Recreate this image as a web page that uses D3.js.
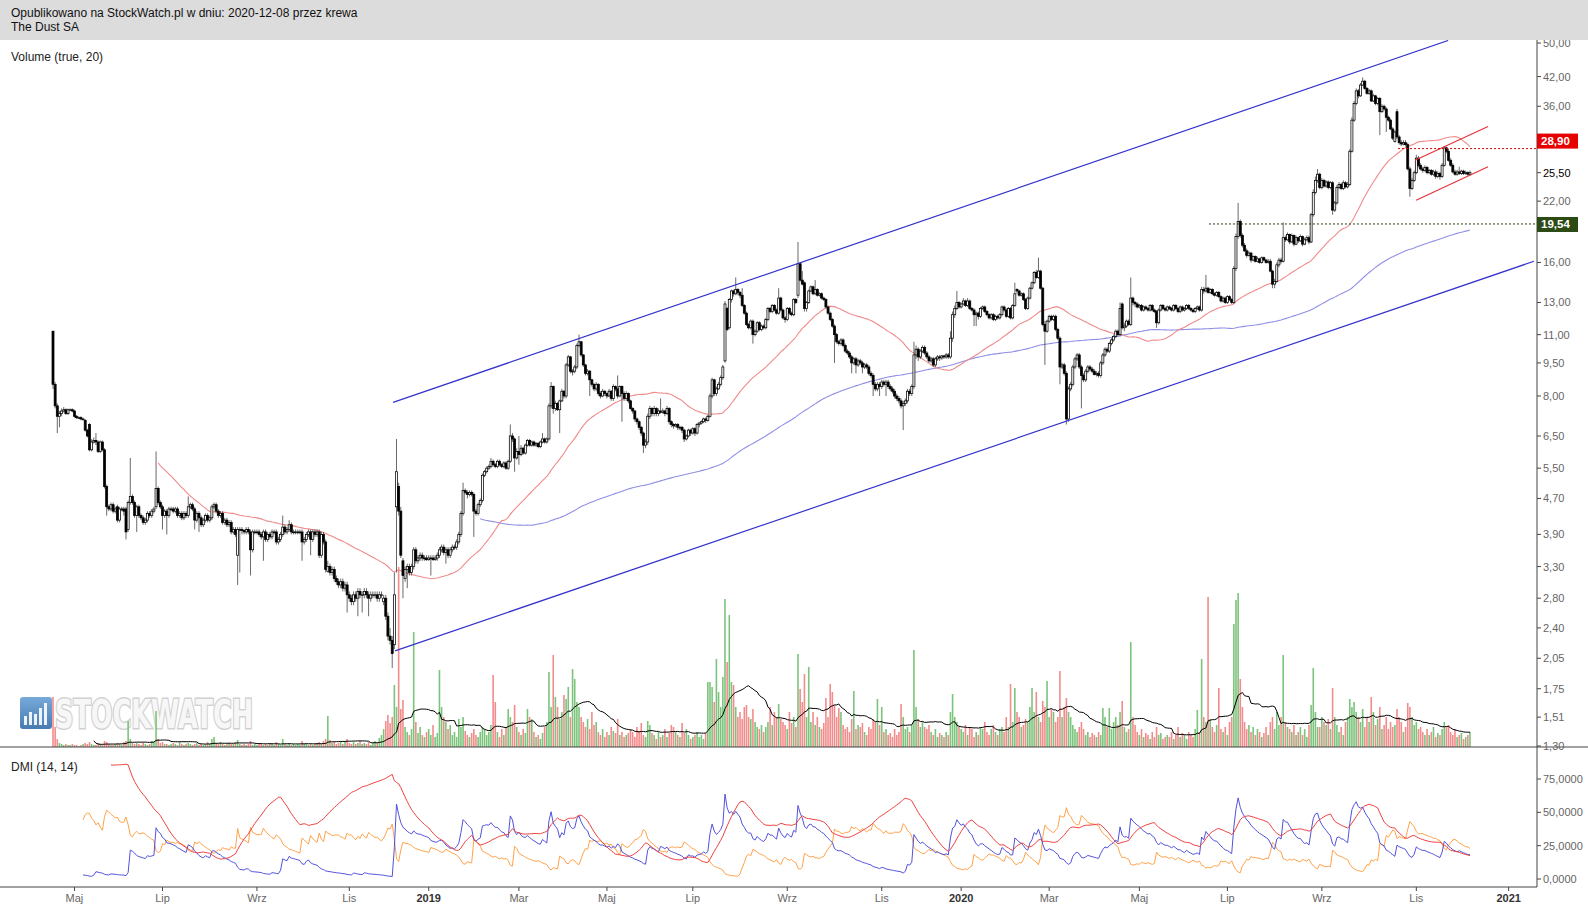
<!DOCTYPE html>
<html><head><meta charset="utf-8">
<script src="https://cdn.jsdelivr.net/npm/d3@7/dist/d3.min.js"></script>
<style>body{margin:0;background:#fff}svg{display:block;font-family:"Liberation Sans",Arial,sans-serif}</style>
</head><body><svg id="c" width="1588" height="906"></svg>
<script>
// ---- DATA (daily candles, The Dust SA, 2018-04-17 .. 2020-12-08) ----
const opens=[11.2,8.5,7.6,7.2,7.3,7.4,7.45,7.3,7.45,7.45,
7.4,7.2,7.15,7.15,7.1,7.05,6.7,6.9,6.05,6.3,
6.35,6.3,6.0,6.3,6.05,5.0,4.5,4.45,4.55,4.4,
4.5,4.2,4.45,4.45,4.45,4.0,4.6,4.75,4.6,4.3,
4.5,4.3,4.25,4.15,4.2,4.35,4.3,4.4,4.5,4.95,
4.6,4.5,4.3,4.4,4.3,4.45,4.45,4.4,4.45,4.3,
4.35,4.25,4.35,4.3,4.5,4.55,4.45,4.2,4.35,4.25,
4.1,4.2,4.3,4.2,4.25,4.5,4.55,4.4,4.3,4.35,
4.15,4.2,4.1,4.15,3.95,4.0,3.5,4.0,4.0,3.98,
3.95,4.0,3.95,3.6,3.95,3.95,3.95,3.9,3.85,3.95,
3.8,3.9,3.85,3.95,3.95,3.75,3.8,3.9,4.05,3.95,
4.0,4.1,3.95,3.95,3.95,3.95,3.95,3.75,3.8,3.9,
3.95,3.8,3.95,3.9,3.95,3.5,3.9,3.75,3.22,3.3,
3.2,3.25,3.1,3.05,3.0,3.05,2.95,3.0,2.85,2.8,
2.75,2.85,2.8,2.9,2.85,2.85,2.9,2.85,2.8,2.85,
2.85,2.85,2.8,2.85,2.75,2.8,2.55,2.3,2.25,2.2,
4.5,5.0,4.4,3.4,3.1,3.25,3.3,3.2,3.3,3.6,
3.4,3.45,3.5,3.45,3.45,3.42,3.45,3.45,3.42,3.45,
3.5,3.6,3.65,3.55,3.6,3.5,3.6,3.65,3.65,3.75,
3.9,4.35,4.9,4.85,4.8,4.85,4.8,4.4,4.35,4.55,
4.65,5.3,5.4,5.5,5.55,5.7,5.6,5.55,5.7,5.6,
5.55,5.65,5.5,5.7,6.5,6.4,5.8,6.0,5.9,6.1,
5.95,6.2,6.35,6.2,6.3,6.2,6.25,6.15,6.3,6.4,
6.3,6.4,7.6,8.4,7.5,7.7,7.45,7.8,8.2,8.0,
9.4,9.8,9.1,9.1,9.3,10.4,10.6,9.9,9.4,9.0,
9.1,8.7,8.5,8.3,8.5,8.1,8.0,8.2,8.1,8.0,
8.2,7.9,8.4,8.3,8.0,8.4,8.1,7.9,8.1,7.8,
7.5,7.4,7.1,7.0,6.8,6.6,6.2,6.3,7.2,7.5,
7.3,7.5,7.3,7.4,7.35,7.4,7.3,7.5,7.0,6.9,
6.85,6.9,6.8,6.8,6.7,6.4,6.5,6.7,6.6,6.75,
6.6,6.9,6.95,7.0,7.1,7.05,7.2,8.0,8.7,8.1,
8.3,8.5,8.8,9.6,12.6,11.4,13.2,13.8,13.6,13.9,
13.7,13.5,12.8,12.3,11.6,11.4,11.8,11.0,11.2,11.7,
11.3,11.5,11.4,11.9,12.6,12.4,12.8,12.5,12.3,13.3,
12.5,12.0,11.9,12.6,12.3,12.2,13.2,13.5,15.9,14.6,
14.4,12.6,13.0,13.8,14.1,13.6,13.9,13.5,13.6,13.3,
13.2,12.7,12.3,11.9,11.5,11.0,10.6,10.5,10.7,10.4,
10.1,10.0,9.8,9.5,9.7,9.4,9.6,9.5,9.3,9.4,
9.3,9.0,8.9,8.5,8.3,8.5,8.4,8.6,8.5,8.6,
8.4,8.3,8.2,8.0,7.9,7.8,7.6,7.7,7.8,8.2,
8.1,8.4,9.9,10.2,9.8,10.1,10.3,10.0,9.8,9.6,
9.7,9.4,9.7,9.8,9.75,9.85,9.8,9.9,9.8,10.8,
12.2,12.6,13.0,12.7,12.9,13.1,12.8,13.1,12.6,12.5,
12.2,12.3,12.1,12.6,12.7,12.4,12.2,12.0,12.2,11.9,
12.1,12.0,12.2,12.7,12.5,12.1,12.6,12.0,12.8,13.9,
13.8,13.5,13.6,13.2,12.6,13.3,14.0,14.4,15.2,14.8,
15.3,14.0,11.6,11.2,11.8,12.1,11.9,12.1,11.3,10.8,
9.3,9.4,9.0,7.1,8.3,8.5,9.3,9.7,9.9,9.3,
8.9,8.7,9.1,9.3,9.2,9.1,8.95,9.0,8.9,9.5,
9.9,10.2,10.1,10.5,10.7,10.9,11.2,11.0,12.9,11.4,
11.5,11.8,11.6,13.3,13.0,12.9,12.7,12.8,12.5,12.7,
12.6,12.5,12.8,12.5,12.4,11.7,12.5,12.8,12.6,12.5,
12.7,12.6,12.5,12.8,12.6,12.4,12.7,12.5,12.6,12.8,
12.6,12.5,12.4,12.6,12.7,12.5,13.9,13.8,14.0,13.7,
13.9,13.6,13.5,13.7,13.4,13.1,13.3,13.0,13.4,13.2,
13.0,15.5,18.3,19.8,18.4,17.5,17.0,16.6,16.8,16.2,
16.5,16.1,16.3,16.0,16.4,16.2,16.0,16.1,15.3,14.3,
14.5,15.8,16.2,16.1,18.2,18.0,18.5,17.8,18.4,17.6,
18.2,17.9,18.3,17.6,18.0,18.2,17.8,20.5,23.0,24.5,
25.3,23.6,24.5,23.8,24.3,23.6,24.2,21.0,21.8,23.6,
24.0,23.5,24.2,23.7,24.0,28.5,33.5,36.5,39.0,38.0,
40.2,41.0,39.5,38.5,39.0,37.0,38.0,36.5,37.5,35.0,
36.0,35.5,34.0,33.5,32.0,30.0,35.0,30.7,29.8,29.6,
29.8,29.5,26.0,23.5,24.5,25.5,27.5,26.5,26.0,25.8,
26.2,25.5,25.8,25.3,25.6,25.0,25.4,25.0,26.5,29.0,
28.5,27.2,26.5,25.6,25.3,25.6,25.4,25.7,25.4,25.5,
25.3];
const highs=[11.2,8.6,7.7,7.4,7.5,7.55,7.5,7.5,7.5,7.5,
7.45,7.25,7.2,7.2,7.15,7.1,6.75,6.95,6.4,6.45,
6.6,6.35,6.35,6.35,6.1,5.05,4.55,4.6,4.6,4.5,
4.55,4.5,4.5,4.5,4.5,4.65,5.8,4.8,4.65,4.55,
4.55,4.35,4.3,4.25,4.4,4.4,4.45,4.5,6.0,5.0,
4.65,4.55,4.45,4.45,4.5,4.5,4.5,4.5,4.5,4.4,
4.4,4.4,4.4,4.75,4.6,4.6,4.5,4.4,4.4,4.3,
4.25,4.35,4.35,4.3,4.55,4.6,4.6,4.45,4.4,4.4,
4.25,4.25,4.2,4.2,4.05,4.05,4.05,4.05,4.05,4.0,
4.05,4.05,4.0,4.0,4.0,4.0,4.0,3.95,4.0,4.0,
3.95,3.95,4.0,4.0,4.0,3.85,3.95,4.3,4.1,4.05,
4.2,4.15,4.0,4.0,4.0,4.0,4.0,3.85,3.95,4.0,
4.0,4.0,4.0,4.0,4.0,3.95,3.95,3.8,3.4,3.35,
3.3,3.3,3.15,3.1,3.1,3.1,3.05,3.05,2.9,2.85,
2.9,2.9,2.95,2.95,2.9,2.95,2.95,2.9,2.9,2.9,
2.9,2.9,2.9,2.9,2.85,2.85,2.6,2.4,2.3,3.2,
6.4,5.1,4.5,3.45,3.3,3.35,3.35,3.35,3.65,3.65,
3.5,3.55,3.55,3.5,3.5,3.5,3.5,3.5,3.5,3.55,
3.65,3.7,3.7,3.65,3.65,3.65,3.7,3.7,3.8,3.95,
4.4,5.1,4.95,4.9,4.9,4.9,4.85,4.45,4.6,4.7,
5.35,5.45,5.55,5.6,5.8,5.75,5.65,5.75,5.75,5.65,
5.7,5.7,5.75,6.9,6.6,6.45,6.1,6.5,6.2,6.15,
6.25,6.4,6.4,6.35,6.35,6.3,6.3,6.35,6.6,6.45,
6.45,7.7,8.6,8.45,7.8,7.75,7.85,8.3,8.25,9.5,
9.9,9.85,9.2,9.4,10.5,11.0,10.65,9.95,9.45,9.2,
9.15,8.75,8.55,8.6,8.55,8.2,8.3,8.25,8.15,8.3,
8.25,8.5,8.45,8.9,8.45,8.45,8.2,8.2,8.15,7.85,
7.55,7.45,7.15,7.05,6.85,6.65,6.4,7.3,7.6,7.55,
7.6,7.55,7.5,7.9,7.5,7.45,7.6,7.55,7.05,6.95,
6.95,6.95,6.85,6.85,6.75,6.55,6.75,6.75,6.8,6.8,
6.95,7.0,7.05,7.15,7.15,7.25,8.1,8.8,8.75,8.4,
8.6,8.9,9.4,13.1,12.7,13.3,13.9,13.9,14.8,14.0,
13.8,14.0,12.9,12.4,11.7,11.9,11.9,11.3,11.8,11.8,
11.6,11.6,12.0,12.7,12.7,12.9,12.9,12.6,14.0,13.4,
12.6,12.1,12.7,12.7,12.4,13.3,13.3,17.8,16.0,15.3,
14.5,13.1,13.9,14.2,14.2,14.6,14.0,13.7,13.7,13.4,
13.3,12.8,12.4,12.0,11.6,11.1,10.7,10.8,10.8,10.5,
10.2,10.1,9.9,9.8,9.8,9.7,9.7,9.6,9.5,9.5,
9.4,9.1,9.0,8.6,8.6,8.6,8.7,8.7,8.7,8.7,
8.5,8.4,8.3,8.1,8.0,7.9,7.8,7.9,8.3,8.3,
8.5,10.6,10.4,10.3,10.2,10.4,10.4,10.1,9.9,9.8,
9.8,9.8,9.9,9.9,9.9,9.9,10.0,10.0,11.2,12.4,
12.8,13.8,13.1,13.0,13.3,13.2,13.3,13.2,12.7,12.6,
12.4,12.4,12.7,12.8,12.8,12.5,12.3,12.3,12.3,12.2,
12.2,12.3,12.8,12.8,12.6,12.7,12.7,12.9,14.4,14.0,
13.9,13.7,13.7,13.3,13.4,14.1,14.5,15.3,15.4,16.4,
15.4,14.1,11.8,11.9,12.2,12.2,12.2,12.2,11.4,10.9,
9.5,9.5,9.1,8.4,8.6,9.4,9.8,10.0,10.0,9.4,
9.0,9.2,9.4,9.4,9.3,9.2,9.1,9.1,9.6,10.0,
10.3,10.3,10.6,10.8,11.0,11.3,11.3,13.0,13.0,11.7,
11.9,11.9,14.8,13.4,13.1,13.0,12.9,12.9,12.8,12.8,
12.7,12.9,12.9,12.6,12.5,12.6,12.9,12.9,12.7,12.8,
12.8,12.7,12.9,12.9,12.7,12.8,12.8,12.7,12.9,12.9,
12.7,12.6,12.7,12.8,12.8,14.1,14.1,15.0,14.1,14.0,
14.0,13.7,13.8,13.8,13.5,13.4,13.4,13.5,13.5,13.3,
15.7,18.6,21.8,20.0,18.6,17.7,17.2,17.0,16.9,16.6,
16.6,16.5,16.4,16.5,16.5,16.3,16.3,16.3,15.4,14.7,
16.0,16.4,16.4,19.7,18.4,18.7,18.6,18.6,18.5,18.4,
18.3,18.5,18.4,18.2,18.4,18.4,20.7,23.4,25.0,26.0,
25.5,24.8,24.7,24.5,24.5,24.4,24.4,22.0,23.9,24.3,
24.2,24.5,24.4,24.3,28.8,34.0,37.0,39.5,39.4,40.6,
41.8,41.3,39.8,39.4,39.3,38.4,38.2,37.8,37.8,36.4,
36.3,35.8,34.3,33.8,32.3,31.8,35.5,31.0,30.2,30.2,
30.2,29.8,26.3,24.8,25.8,28.0,27.8,26.8,26.3,26.5,
26.4,26.0,26.0,25.9,25.9,25.7,25.6,26.8,29.3,29.2,
28.9,27.5,26.8,25.9,25.9,26.3,25.9,25.9,25.8,25.7,
25.8];
const lows=[8.3,7.5,6.6,6.8,7.2,7.35,7.25,7.25,7.4,7.35,
7.15,7.1,7.1,7.05,7.05,6.65,6.45,6.0,6.0,6.25,
6.2,5.95,5.95,6.0,4.95,4.3,4.4,4.4,4.35,4.35,
4.15,4.15,4.4,4.3,3.8,3.95,4.55,4.55,4.25,3.95,
4.25,4.2,4.1,4.1,4.15,4.25,4.25,4.35,4.45,4.55,
4.45,4.0,4.25,3.9,4.25,4.4,4.35,4.35,4.25,4.25,
4.2,4.2,4.25,4.25,4.45,4.4,4.0,4.15,3.95,4.05,
4.05,4.15,4.15,4.15,4.2,4.45,4.35,4.25,4.25,4.1,
4.1,4.05,4.05,3.9,3.9,3.85,3.0,3.2,3.9,3.9,
3.9,3.9,3.15,3.55,3.9,3.9,3.85,3.8,3.4,3.75,
3.75,3.8,3.8,3.9,3.7,3.7,3.75,3.85,3.9,3.9,
3.95,3.9,3.9,3.9,3.9,3.9,3.4,3.7,3.75,3.85,
3.5,3.75,3.85,3.85,3.45,3.45,3.7,3.2,3.2,3.15,
3.15,3.05,3.0,2.95,2.95,2.9,2.9,2.6,2.75,2.7,
2.7,2.75,2.55,2.8,2.6,2.8,2.8,2.55,2.75,2.8,
2.8,2.75,2.75,2.8,2.7,2.5,2.25,2.2,1.95,2.15,
3.2,4.3,3.45,2.8,3.05,2.95,3.15,3.15,3.25,3.35,
3.35,3.4,3.4,3.4,3.4,3.4,3.15,3.4,3.4,3.4,
3.45,3.55,3.5,3.35,3.45,3.45,3.55,3.6,3.6,3.7,
3.85,4.3,4.8,4.7,4.75,4.75,3.85,4.3,4.3,4.5,
4.6,5.25,5.35,5.45,5.5,5.55,5.5,5.5,5.55,5.5,
5.5,5.45,5.45,5.65,6.3,5.4,5.75,5.6,5.85,5.9,
5.9,6.15,6.15,6.15,6.15,6.15,6.1,6.1,6.25,6.25,
6.25,6.35,7.5,7.3,7.4,7.4,6.6,7.75,7.9,7.9,
9.3,9.0,8.9,9.0,9.2,10.3,9.8,9.3,8.9,8.9,
8.0,8.4,8.2,8.2,8.0,7.9,7.95,8.0,7.9,7.95,
7.8,7.8,8.2,7.9,7.95,7.0,7.8,7.8,7.7,7.45,
7.3,7.0,6.9,6.7,6.5,5.95,6.1,6.2,7.1,7.2,
7.2,7.2,7.2,7.3,7.3,7.2,7.25,6.9,6.8,6.75,
6.8,6.7,6.7,6.6,6.3,6.35,6.45,6.5,6.55,6.5,
6.55,6.8,6.9,6.95,6.95,7.0,7.15,7.9,8.0,8.0,
8.25,8.4,8.7,9.5,11.2,11.3,13.0,13.4,13.5,13.5,
13.3,12.7,12.2,11.5,11.3,11.3,10.5,10.9,11.1,11.2,
11.2,11.3,11.3,11.8,12.3,12.3,12.4,12.2,12.2,12.4,
11.9,11.7,11.8,12.2,12.1,12.1,12.9,13.3,14.5,14.2,
12.4,12.4,12.9,13.7,13.5,13.5,13.4,13.4,13.2,13.1,
12.6,12.2,11.8,11.4,9.5,10.5,10.4,10.4,10.3,10.0,
9.9,9.7,9.0,9.4,9.0,9.3,9.4,9.0,9.2,9.2,
8.9,8.8,8.0,8.2,8.2,8.0,8.3,8.4,8.0,8.3,
8.2,8.1,7.9,7.8,7.7,7.5,6.7,7.6,7.7,8.0,
8.0,8.3,9.7,9.6,9.7,10.0,9.9,9.7,9.5,9.5,
9.3,9.3,9.6,9.6,9.65,9.7,9.7,9.7,9.7,10.6,
12.0,12.5,12.6,12.6,12.8,12.7,12.7,12.5,12.4,11.5,
11.5,11.9,12.0,12.5,12.3,12.1,11.9,11.9,11.8,11.8,
11.9,11.9,12.1,12.4,12.0,12.0,11.9,11.9,12.7,13.6,
13.4,13.4,13.1,12.5,12.5,13.2,13.9,14.3,14.7,14.7,
13.9,11.5,9.4,11.1,11.7,11.8,11.8,11.2,10.7,8.5,
9.2,8.9,6.9,7.0,8.2,8.4,9.2,9.6,9.2,7.5,
8.6,8.6,9.0,9.1,9.0,8.9,8.85,8.8,8.8,9.4,
9.8,10.0,10.0,10.4,10.6,10.8,10.9,10.9,11.3,11.2,
11.4,11.5,11.5,12.8,12.7,12.6,12.6,12.4,12.4,12.5,
12.4,12.4,12.4,12.3,11.4,11.6,12.4,12.5,12.4,12.4,
12.5,12.4,12.4,12.5,12.3,12.3,12.4,12.4,12.5,12.5,
12.4,12.3,12.3,12.5,12.4,12.4,13.6,13.7,13.6,13.6,
13.5,13.4,13.4,13.3,13.0,13.0,12.9,12.9,13.1,12.9,
12.9,15.3,18.1,18.2,17.3,16.9,16.4,16.5,16.0,16.1,
16.0,16.0,15.9,15.9,16.1,15.9,15.9,15.2,14.0,14.0,
14.4,15.6,15.9,16.0,17.8,17.9,17.6,17.7,17.4,17.5,
17.7,17.8,17.4,17.5,17.9,17.6,17.7,20.3,22.8,24.2,
23.4,23.4,23.6,23.6,23.4,23.4,20.5,20.8,21.6,23.4,
23.3,23.3,23.5,23.5,23.8,28.3,33.2,36.2,37.5,37.8,
40.0,39.2,38.2,38.2,36.8,36.8,36.2,36.2,31.0,34.8,
35.2,31.5,33.2,31.8,30.2,29.8,30.4,29.5,29.3,29.4,
29.2,25.8,22.5,23.3,24.3,25.3,26.2,25.8,25.5,25.6,
25.3,25.3,25.1,25.1,24.7,24.8,24.6,24.8,26.3,28.2,
27.0,26.3,25.4,25.1,25.1,25.2,25.2,25.2,25.2,25.1,
25.1];
const closes=[8.5,7.6,7.2,7.3,7.4,7.45,7.3,7.45,7.45,7.4,
7.2,7.15,7.15,7.1,7.1,6.7,6.5,6.05,6.3,6.35,
6.3,6.0,6.3,6.05,5.0,4.5,4.45,4.55,4.4,4.45,
4.2,4.45,4.45,4.4,3.95,4.6,4.75,4.6,4.3,4.5,
4.3,4.25,4.15,4.2,4.35,4.3,4.4,4.45,4.95,4.6,
4.5,4.3,4.4,4.3,4.45,4.45,4.4,4.45,4.3,4.35,
4.25,4.35,4.3,4.5,4.55,4.45,4.2,4.35,4.25,4.1,
4.2,4.3,4.2,4.25,4.5,4.55,4.4,4.3,4.35,4.15,
4.2,4.1,4.15,3.95,4.0,3.9,4.0,4.0,3.98,3.95,
4.0,3.95,3.6,3.95,3.95,3.95,3.9,3.85,3.95,3.8,
3.9,3.85,3.95,3.95,3.75,3.8,3.9,4.05,3.95,4.0,
4.1,3.95,3.95,3.95,3.95,3.95,3.75,3.8,3.9,3.95,
3.8,3.95,3.9,3.95,3.5,3.9,3.75,3.25,3.3,3.2,
3.25,3.1,3.05,3.0,3.05,2.95,3.0,2.85,2.8,2.75,
2.85,2.8,2.9,2.85,2.85,2.9,2.85,2.8,2.85,2.85,
2.85,2.8,2.85,2.85,2.8,2.55,2.3,2.25,2.1,2.85,
5.4,4.4,3.5,3.15,3.25,3.3,3.2,3.3,3.6,3.4,
3.45,3.5,3.45,3.45,3.42,3.45,3.45,3.42,3.45,3.5,
3.6,3.65,3.55,3.6,3.5,3.6,3.65,3.65,3.75,3.9,
4.35,4.9,4.85,4.8,4.85,4.8,4.4,4.35,4.55,4.65,
5.3,5.4,5.5,5.55,5.7,5.6,5.55,5.7,5.6,5.55,
5.65,5.5,5.7,6.5,6.4,5.8,6.0,5.9,6.1,5.95,
6.2,6.35,6.2,6.3,6.2,6.25,6.15,6.3,6.4,6.3,
6.4,7.6,8.4,7.5,7.7,7.45,7.8,8.2,8.0,9.4,
9.8,9.1,9.1,9.3,10.4,10.6,9.9,9.4,9.0,9.1,
8.7,8.5,8.3,8.5,8.1,8.0,8.2,8.1,8.0,8.2,
7.9,8.4,8.3,8.0,8.4,8.1,7.9,8.1,7.8,7.5,
7.4,7.1,7.0,6.8,6.6,6.2,6.3,7.2,7.5,7.3,
7.5,7.3,7.4,7.35,7.4,7.3,7.5,7.0,6.9,6.85,
6.9,6.8,6.8,6.7,6.4,6.5,6.7,6.6,6.75,6.6,
6.9,6.95,7.0,7.1,7.05,7.2,8.0,8.7,8.1,8.3,
8.5,8.8,9.3,12.9,11.3,13.2,13.8,13.6,13.9,13.7,
13.5,12.8,12.3,11.6,11.4,11.8,11.0,11.2,11.7,11.3,
11.5,11.4,11.9,12.6,12.4,12.8,12.5,12.3,13.3,12.5,
12.0,11.9,12.6,12.3,12.2,13.2,13.0,15.9,14.6,14.3,
12.6,13.0,13.8,14.1,13.6,13.9,13.5,13.6,13.3,13.2,
12.7,12.3,11.9,11.5,11.0,10.6,10.5,10.7,10.4,10.1,
10.0,9.8,9.5,9.7,9.4,9.6,9.5,9.3,9.4,9.3,
9.0,8.9,8.5,8.3,8.5,8.4,8.6,8.5,8.6,8.4,
8.3,8.2,8.0,7.9,7.8,7.6,7.7,7.8,8.2,8.1,
8.4,9.9,10.2,9.8,10.1,10.3,10.0,9.8,9.6,9.7,
9.4,9.7,9.8,9.75,9.85,9.8,9.9,9.8,10.8,12.2,
12.6,13.0,12.7,12.9,13.1,12.8,13.1,12.6,12.5,12.2,
12.3,12.1,12.6,12.7,12.4,12.2,12.0,12.2,11.9,12.1,
12.0,12.2,12.7,12.5,12.1,12.6,12.0,12.8,13.6,13.8,
13.5,13.6,13.2,12.6,13.3,14.0,14.4,15.2,14.8,15.3,
14.0,11.6,11.2,11.8,12.1,11.9,12.1,11.3,10.8,9.3,
9.4,9.0,7.1,8.3,8.5,9.3,9.7,9.9,9.3,8.9,
8.7,9.1,9.3,9.2,9.1,8.95,9.0,8.9,9.5,9.9,
10.2,10.1,10.5,10.7,10.9,11.2,11.0,12.6,11.4,11.5,
11.8,11.6,13.3,13.0,12.9,12.7,12.8,12.5,12.7,12.6,
12.5,12.8,12.5,12.4,11.7,12.5,12.8,12.6,12.5,12.7,
12.6,12.5,12.8,12.6,12.4,12.7,12.5,12.6,12.8,12.6,
12.5,12.4,12.6,12.7,12.5,13.9,13.8,14.0,13.7,13.9,
13.6,13.5,13.7,13.4,13.1,13.3,13.0,13.4,13.2,13.0,
15.5,18.3,19.8,18.4,17.5,17.0,16.6,16.8,16.2,16.5,
16.1,16.3,16.0,16.4,16.2,16.0,16.1,15.3,14.3,14.5,
15.8,16.2,16.1,18.2,18.0,18.5,17.8,18.4,17.6,18.2,
17.9,18.3,17.6,18.0,18.2,17.8,20.5,23.0,24.5,25.3,
23.6,24.5,23.8,24.3,23.6,24.2,21.0,21.8,23.6,24.0,
23.5,24.2,23.7,24.0,28.5,33.5,36.5,39.0,38.0,40.2,
41.0,39.5,38.5,39.0,37.0,38.0,36.5,37.5,35.0,36.0,
35.5,34.0,33.5,32.0,30.5,31.5,30.7,29.8,29.6,29.8,
29.5,26.0,23.5,24.5,25.5,27.5,26.5,26.0,25.8,26.2,
25.5,25.8,25.3,25.6,25.0,25.4,25.0,26.5,29.0,28.5,
27.2,26.5,25.6,25.3,25.6,25.4,25.7,25.4,25.5,25.3,
25.5];
const volumes=[50,20,8,4,3,2,3,2,2,3,
2,2,1,2,3,4,3,5,3,2,
2,4,3,2,6,5,3,2,2,3,
4,3,2,5,6,26,8,4,3,4,
3,2,4,3,2,3,6,5,36,8,
4,5,3,3,2,3,4,3,2,5,
3,2,3,4,3,2,3,4,2,3,
2,3,5,3,8,10,4,3,5,3,
2,3,4,3,3,5,7,3,2,3,
2,3,6,2,3,2,4,3,2,3,
2,4,3,2,5,3,2,8,3,2,
4,2,3,2,3,2,6,3,4,2,
3,2,3,4,5,3,6,8,31,7,
4,5,3,4,6,3,5,8,4,3,
5,3,4,6,3,4,3,5,2,4,
6,4,9,12,18,26,32,24,30,62,
40,180,38,47,20,15,12,18,115,25,
14,20,12,10,15,18,12,22,10,14,
77,40,30,25,18,22,12,15,10,28,
20,30,16,12,10,14,18,12,10,15,
20,18,12,15,22,72,45,15,10,18,
12,20,38,30,25,42,20,15,12,18,
14,38,30,28,15,10,12,8,14,20,
25,75,40,92,50,40,28,35,52,48,
60,30,78,68,45,40,30,25,20,28,
18,35,22,25,15,12,18,10,15,12,
20,16,14,28,12,15,10,12,14,18,
15,10,20,16,24,12,10,26,22,14,
12,8,15,10,12,18,10,14,22,20,
15,12,10,24,14,18,12,8,10,12,
15,10,12,8,14,65,65,60,45,88,
55,40,70,148,85,132,65,62,40,30,
35,28,40,42,30,28,38,25,20,18,
22,15,20,25,40,22,35,30,43,28,
25,22,18,35,24,30,20,93,58,45,
73,30,80,25,35,22,30,20,18,24,
49,30,63,55,42,30,39,35,22,18,
20,15,28,56,18,22,20,24,15,12,
20,18,28,25,48,22,40,15,18,12,
14,10,18,12,15,43,30,18,20,15,
22,97,40,28,20,25,20,18,22,15,
12,18,10,14,12,10,15,12,35,53,
30,25,20,18,15,22,12,20,18,10,
15,12,20,18,25,15,12,18,22,15,
12,18,20,15,30,20,63,25,59,35,
30,20,22,28,25,40,59,35,55,30,
25,46,40,66,30,38,35,25,30,76,
30,40,49,35,30,22,18,15,20,25,
18,12,15,10,14,12,10,15,12,39,
30,20,39,18,25,30,22,35,46,20,
15,18,105,30,22,15,12,18,10,14,
12,8,15,10,20,12,14,8,10,12,
10,15,8,12,20,10,14,12,8,15,
12,10,18,37,15,88,30,25,150,28,
20,15,22,59,18,15,20,12,25,30,
123,147,154,68,40,25,18,22,15,20,
12,18,15,10,14,20,12,25,30,18,
35,22,30,92,25,20,18,15,22,12,
15,20,12,18,10,22,42,79,35,20,
20,30,25,22,28,18,59,30,22,15,
20,12,25,30,48,40,45,35,30,25,
38,20,30,25,50,35,22,28,40,18,
22,30,18,25,20,22,38,30,25,15,
20,44,40,30,22,25,18,20,15,12,
18,12,15,20,10,14,12,18,25,20,
22,15,12,18,10,12,14,8,10,12,
15];
const firstSession="2018-04-17";
const exchangeHolidays=["2018-05-01","2018-05-03","2018-05-31","2018-08-15","2018-11-01","2018-11-12","2018-12-24","2018-12-25","2018-12-26","2018-12-31",
"2019-01-01","2019-04-19","2019-04-22","2019-05-01","2019-05-03","2019-06-20","2019-08-15","2019-11-01","2019-11-11","2019-12-24","2019-12-25","2019-12-26","2019-12-31",
"2020-01-01","2020-01-06","2020-04-10","2020-04-13","2020-05-01","2020-06-11","2020-11-11"];
const monthLabels={2:"Mar",4:"Maj",6:"Lip",8:"Wrz",10:"Lis"};
const priceTicks=[50,42,36,25.5,22,16,13,11,9.5,8,6.5,5.5,4.7,3.9,3.3,2.8,2.4,2.05,1.75,1.51,1.3];
const dmiTicks=[0,25,50,75];
// drawn trendlines: [session index, price]
const upperChannel=[[158.4,7.74],[649.8,50.65]];
const lowerChannel=[[159.3,2.13],[689.8,16.1]];
const flagUpper=[[634.4,27.2],[668.4,32.4]];
const flagLower=[[634.9,22.1],[668.4,26.3]];
const resistance={price:28.90,from:626.5,label:"28,90"};
const support={price:19.54,from:538.4,label:"19,54"};
const title1="Opublikowano na StockWatch.pl w dniu: 2020-12-08 przez krewa";
const title2="The Dust SA";

// ---- LAYOUT ----
const AX=1537, TOP=40, MAIN_BOT=747, DMI_BOT=887;
const svg=d3.select("#c");
const N=Math.min(opens.length,highs.length,lows.length,closes.length,volumes.length);
const bars=d3.range(N).map(i=>({i,o:opens[i],c:closes[i],
  h:Math.max(highs[i],opens[i],closes[i]),l:Math.min(lows[i],opens[i],closes[i]),v:volumes[i]}));

// sessions calendar
const hol=new Set(exchangeHolidays), f=d3.timeFormat("%Y-%m-%d");
const dates=[]; let d=d3.timeParse("%Y-%m-%d")(firstSession);
while(dates.length<N){const w=d.getDay(); if(w!==0&&w!==6&&!hol.has(f(d)))dates.push(new Date(d)); d=d3.timeDay.offset(d,1);}
const ext=dates.slice(); const endExt=new Date(2021,0,20);
while(d<endExt){const w=d.getDay(); if(w!==0&&w!==6)ext.push(new Date(d)); d=d3.timeDay.offset(d,1);}

const x=d3.scaleLinear().domain([0,N-1]).range([53,1470]);
const y=d3.scaleLog().domain([1.3,50]).range([746,43]);
const yv=d3.scaleLinear().domain([0,180]).range([MAIN_BOT,567]);
const yd=d3.scaleLinear().domain([0,75]).range([879,779]);

const defs=svg.append("defs");
defs.append("clipPath").attr("id","cm").append("rect").attr("x",0).attr("y",TOP).attr("width",AX).attr("height",MAIN_BOT-TOP);
defs.append("clipPath").attr("id","cd").append("rect").attr("x",0).attr("y",MAIN_BOT).attr("width",AX).attr("height",DMI_BOT-MAIN_BOT);
const gr=defs.append("linearGradient").attr("id","ig").attr("x1",0).attr("y1",0).attr("x2",0).attr("y2",1);
gr.append("stop").attr("offset",0).attr("stop-color","#6fa6d8");
gr.append("stop").attr("offset",1).attr("stop-color","#3f74ad");

// watermark
const wm=svg.append("g").attr("opacity",0.95);
wm.append("rect").attr("x",20).attr("y",697).attr("width",32).attr("height",32).attr("rx",3).attr("fill","url(#ig)");
[[24,9],[29,13],[34,11],[39,17],[44,22]].forEach(([bx,bh])=>wm.append("rect").attr("x",bx).attr("y",725-bh).attr("width",3).attr("height",bh).attr("fill","#fff").attr("opacity",0.9));
wm.append("text").attr("x",55).attr("y",728).attr("font-size",39).attr("font-weight","bold")
  .attr("font-family","'DejaVu Sans Condensed','Liberation Sans Narrow','Liberation Sans',sans-serif")
  .attr("textLength",198).attr("lengthAdjust","spacingAndGlyphs")
  .attr("fill","#f7f7f7").attr("stroke","#cfcfcf").attr("stroke-width",3).attr("paint-order","stroke").text("STOCKWATCH");

const main=svg.append("g").attr("clip-path","url(#cm)");
// volume
const up=b=>b.c>=b.o;
main.append("g").selectAll("rect").data(bars).join("rect")
  .attr("x",b=>x(b.i)-0.8).attr("width",1.6).attr("y",b=>yv(b.v)).attr("height",b=>yv(0)-yv(b.v))
  .attr("fill",b=>up(b)?"#7cc47c":"#f28c8c");
function sma(arr,n){return arr.map((_,i)=>i<n-1?null:d3.mean(arr.slice(i-n+1,i+1)));}
const vma=sma(volumes.slice(0,N),20);
const lineIdx=(arr,sc)=>d3.line().defined(i=>arr[i]!=null).x(i=>x(i)).y(i=>sc(arr[i]));
main.append("path").attr("d",lineIdx(vma,yv)(d3.range(N))).attr("fill","none").attr("stroke","#000").attr("stroke-width",1);
// moving averages
const ma50=sma(closes.slice(0,N),50), ma200=sma(closes.slice(0,N),200);
main.append("path").attr("d",lineIdx(ma200,y)(d3.range(N))).attr("fill","none").attr("stroke","#8f8fe6").attr("stroke-width",1.1);
main.append("path").attr("d",lineIdx(ma50,y)(d3.range(N))).attr("fill","none").attr("stroke","#f08a8a").attr("stroke-width",1.1);
// candles
const cg=main.append("g");
cg.selectAll("line").data(bars).join("line").attr("x1",b=>x(b.i)).attr("x2",b=>x(b.i))
  .attr("y1",b=>y(b.h)).attr("y2",b=>y(b.l)).attr("stroke","#444").attr("stroke-width",0.8);
cg.selectAll("rect").data(bars).join("rect").attr("x",b=>x(b.i)-1).attr("width",2)
  .attr("y",b=>y(Math.max(b.o,b.c))).attr("height",b=>Math.max(0.8,Math.abs(y(b.o)-y(b.c))))
  .attr("fill",b=>up(b)?"#fff":"#000").attr("stroke","#000").attr("stroke-width",0.75);
// drawn lines
const seg=(p,col,w)=>main.append("line").attr("x1",x(p[0][0])).attr("y1",y(p[0][1])).attr("x2",x(p[1][0])).attr("y2",y(p[1][1])).attr("stroke",col).attr("stroke-width",w);
seg(upperChannel,"#3333cc",1.2); seg(lowerChannel,"#3333cc",1.2);
seg(flagUpper,"#e8323c",1.2); seg(flagLower,"#e8323c",1.2);
main.append("line").attr("x1",x(resistance.from)).attr("x2",AX).attr("y1",y(resistance.price)).attr("y2",y(resistance.price)).attr("stroke","#cc0000").attr("stroke-dasharray","2,2");
main.append("line").attr("x1",x(support.from)).attr("x2",AX).attr("y1",y(support.price)).attr("y2",y(support.price)).attr("stroke","#1f3d12").attr("stroke-dasharray","2,2");

// DMI (14,14)
function dmi(n){
  const p=new Array(N).fill(null),m=new Array(N).fill(null),a=new Array(N).fill(null);
  let tr=0,pp=0,mm=0; const dx=[]; let adx=null;
  for(let i=1;i<N;i++){
    const u=bars[i].h-bars[i-1].h, dn=bars[i-1].l-bars[i].l;
    const pdm=(u>dn&&u>0)?u:0, mdm=(dn>u&&dn>0)?dn:0;
    const t=Math.max(bars[i].h-bars[i].l,Math.abs(bars[i].h-bars[i-1].c),Math.abs(bars[i].l-bars[i-1].c));
    if(i<=n){tr+=t;pp+=pdm;mm+=mdm;}else{tr=tr-tr/n+t;pp=pp-pp/n+pdm;mm=mm-mm/n+mdm;}
    if(i>=n&&tr>0){
      p[i]=100*pp/tr; m[i]=100*mm/tr;
      const s=p[i]+m[i]; const x0=s>0?100*Math.abs(p[i]-m[i])/s:0;
      dx.push(x0);
      if(dx.length===n){adx=d3.mean(dx);a[i]=adx;}
      else if(dx.length>n){adx=(adx*(n-1)+x0)/n;a[i]=adx;}
    }
  }
  return {p,m,a};
}
const D=dmi(14);
const dg=svg.append("g").attr("clip-path","url(#cd)");
dg.append("path").attr("d",lineIdx(D.m,yd)(d3.range(N))).attr("fill","none").attr("stroke","#ffa24a").attr("stroke-width",1);
dg.append("path").attr("d",lineIdx(D.p,yd)(d3.range(N))).attr("fill","none").attr("stroke","#5252dc").attr("stroke-width",1);
dg.append("path").attr("d",lineIdx(D.a,yd)(d3.range(N))).attr("fill","none").attr("stroke","#ee4040").attr("stroke-width",1);

// frame
svg.append("line").attr("x1",0).attr("x2",1588).attr("y1",MAIN_BOT).attr("y2",MAIN_BOT).attr("stroke","#444");
svg.append("line").attr("x1",0).attr("x2",AX).attr("y1",DMI_BOT).attr("y2",DMI_BOT).attr("stroke","#444");
svg.append("line").attr("x1",AX).attr("x2",AX).attr("y1",TOP).attr("y2",DMI_BOT).attr("stroke","#444");

// legends
svg.append("text").attr("x",11).attr("y",61).attr("font-size",12).attr("fill","#222").text("Volume (true, 20)");
svg.append("text").attr("x",11).attr("y",771).attr("font-size",12).attr("fill","#222").text("DMI (14, 14)");

// price axis
const pa=svg.append("g");
priceTicks.forEach(v=>{
  const yy=y(v);
  pa.append("line").attr("x1",AX).attr("x2",AX+4).attr("y1",yy).attr("y2",yy).attr("stroke","#444");
  pa.append("text").attr("x",AX+6).attr("y",yy+4).attr("font-size",11).attr("fill",v===25.5?"#000":"#666")
    .text(v.toFixed(2).replace(".",","));
});
dmiTicks.forEach(v=>{
  const yy=yd(v);
  pa.append("line").attr("x1",AX).attr("x2",AX+4).attr("y1",yy).attr("y2",yy).attr("stroke","#444");
  pa.append("text").attr("x",AX+6).attr("y",yy+4).attr("font-size",11).attr("fill","#666").text(v.toFixed(4).replace(".",","));
});
[[resistance,"#e60000",-15],[support,"#2b4a14",-7]].forEach(([lv,col,off])=>{
  const yy=y(lv.price);
  pa.append("rect").attr("x",AX).attr("y",yy+off).attr("width",41).attr("height",15).attr("fill",col);
  pa.append("text").attr("x",AX+4).attr("y",yy+off+11.5).attr("font-size",11.5).attr("font-weight","bold").attr("fill","#fff").text(lv.label);
});

// time axis
const ta=svg.append("g");
for(let i=1;i<ext.length;i++){
  const mo=ext[i].getMonth();
  if(mo!==ext[i-1].getMonth()&&mo%2===0){
    const xx=x(i), yr=mo===0;
    ta.append("line").attr("x1",xx).attr("x2",xx).attr("y1",DMI_BOT).attr("y2",DMI_BOT+4).attr("stroke","#444");
    ta.append("text").attr("x",xx).attr("y",902).attr("text-anchor","middle").attr("font-size",11)
      .attr("font-weight",yr?"bold":"normal").attr("fill",yr?"#333":"#666").text(yr?ext[i].getFullYear():monthLabels[mo]);
  }
}

// header (drawn last, it overlaps the top of the axis like the original)
svg.append("rect").attr("x",0).attr("y",0).attr("width",1588).attr("height",TOP).attr("fill","#dcdcdc");
svg.append("text").attr("x",11).attr("y",17).attr("font-size",12).attr("fill","#111").text(title1);
svg.append("text").attr("x",11).attr("y",31).attr("font-size",12).attr("fill","#111").text(title2);
if(N!==661) svg.append("text").attr("x",600).attr("y",60).attr("fill","red").text("len "+[opens.length,highs.length,lows.length,closes.length,volumes.length].join(","));
</script></body></html>
